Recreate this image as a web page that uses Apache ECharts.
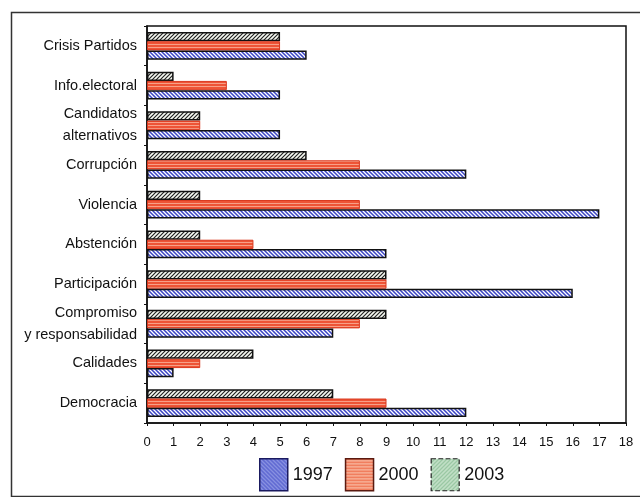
<!DOCTYPE html>
<html>
<head>
<meta charset="utf-8">
<script src="https://cdn.jsdelivr.net/npm/echarts@6/dist/echarts.min.js"></script>
<style>html,body{margin:0;padding:0;background:#fff}#c{width:640px;height:497px}</style>
</head>
<body>
<div id="c"></div>
<script>
// ---- data ----
const categories = ['Crisis Partidos', 'Info.electoral', 'Candidatos\nalternativos', 'Corrupción', 'Violencia', 'Abstención', 'Participación', 'Compromiso\ny responsabilidad', 'Calidades', 'Democracia'];
const years = ['1997', '2000', '2003'];
const values1997 = [6, 5, 5, 12, 17, 9, 16, 7, 1, 12];
const values2000 = [5, 3, 2, 8, 8, 4, 9, 8, 2, 9];
const values2003 = [5, 1, 2, 6, 2, 2, 9, 9, 4, 7];
const xTicks = [0, 18, 1]; // min, max, interval

// ---- patterns ----
function diag(bg, fg, dir, s, lw) {
  const c = document.createElement('canvas');
  c.width = s; c.height = s;
  const g = c.getContext('2d');
  g.fillStyle = bg; g.fillRect(0, 0, s, s);
  g.strokeStyle = fg; g.lineWidth = lw; g.lineCap = 'square';
  g.beginPath();
  if (dir === '/') {
    g.moveTo(0, s); g.lineTo(s, 0);
    g.moveTo(-s / 2, s / 2); g.lineTo(s / 2, -s / 2);
    g.moveTo(s / 2, s * 1.5); g.lineTo(s * 1.5, s / 2);
  } else {
    g.moveTo(0, 0); g.lineTo(s, s);
    g.moveTo(-s / 2, s / 2); g.lineTo(s / 2, s * 1.5);
    g.moveTo(s / 2, -s / 2); g.lineTo(s * 1.5, s / 2);
  }
  g.stroke();
  return { image: c, repeat: 'repeat' };
}
function horiz(colors) {
  const c = document.createElement('canvas');
  c.width = 2; c.height = colors.length;
  const g = c.getContext('2d');
  colors.forEach((col, i) => { g.fillStyle = col; g.fillRect(0, i, 2, 1); });
  return { image: c, repeat: 'repeat' };
}
const p1997 = diag('#3a44c4', '#ffffff', '\\', 4, 1.3);
const p2000 = horiz(['#ee5436', '#ee5436', '#f7a088']);
const p2003 = diag('#f6f9f2', '#222222', '/', 4, 1.2);
const l1997 = diag('#5a64d0', '#9aa2e8', '\\', 4, 1.2);
const l2000 = horiz(['#f0704e', '#f6a88e', '#f6a88e']);
const l2003 = diag('#c8e4cc', '#8cbf98', '/', 4, 1.2);

const sans = "'Liberation Sans', Arial, sans-serif";

const chart = echarts.init(document.getElementById('c'));
chart.setOption({
  backgroundColor: '#ffffff',
  animation: false,
  graphic: [{
    type: 'rect', left: 9, top: 10,
    shape: { width: 640, height: 484 },
    style: { fill: 'none', stroke: '#333', lineWidth: 1.5 },
    silent: true, z: -1
  }],
  grid: { left: 147, top: 26, right: 14, bottom: 74, show: true, borderColor: '#111', borderWidth: 1.5, backgroundColor: 'transparent' },
  legend: {
    left: 259, top: 458, itemWidth: 28, itemHeight: 32, itemGap: 12, padding: 0,
    textStyle: { fontSize: 18, color: '#111', fontFamily: sans },
    data: [
      { name: '1997', icon: 'rect', itemStyle: { color: l1997, borderColor: '#1a1a60', borderWidth: 1.5 } },
      { name: '2000', icon: 'rect', itemStyle: { color: l2000, borderColor: '#5a1a10', borderWidth: 1.5 } },
      { name: '2003', icon: 'rect', itemStyle: { color: l2003, borderColor: '#222', borderWidth: 1.2, borderType: 'dashed' } }
    ]
  },
  xAxis: {
    type: 'value', min: xTicks[0], max: xTicks[1], interval: xTicks[2],
    splitLine: { show: false },
    axisLine: { show: true, lineStyle: { color: '#111', width: 1.5 } },
    axisTick: { show: true, length: 3, lineStyle: { color: '#111' } },
    axisLabel: { fontSize: 13, color: '#111', margin: 13, fontFamily: sans }
  },
  yAxis: {
    type: 'category', data: categories, inverse: true,
    axisLine: { show: true, lineStyle: { color: '#111', width: 1.5 } },
    axisTick: { show: true, length: 3, lineStyle: { color: '#111' } },
    axisLabel: { fontSize: 14.5, color: '#111', margin: 10, lineHeight: 22, align: 'right', fontFamily: sans }
  },
  series: [
    { name: '2003', type: 'bar', data: values2003, barGap: '0%', barCategoryGap: '30%',
      itemStyle: { color: p2003, borderColor: '#111', borderWidth: 1.5 } },
    { name: '2000', type: 'bar', data: values2000,
      itemStyle: { color: p2000, borderColor: '#d9381e', borderWidth: 1 } },
    { name: '1997', type: 'bar', data: values1997,
      itemStyle: { color: p1997, borderColor: '#111', borderWidth: 1.5 } }
  ]
});
</script>
</body>
</html>
